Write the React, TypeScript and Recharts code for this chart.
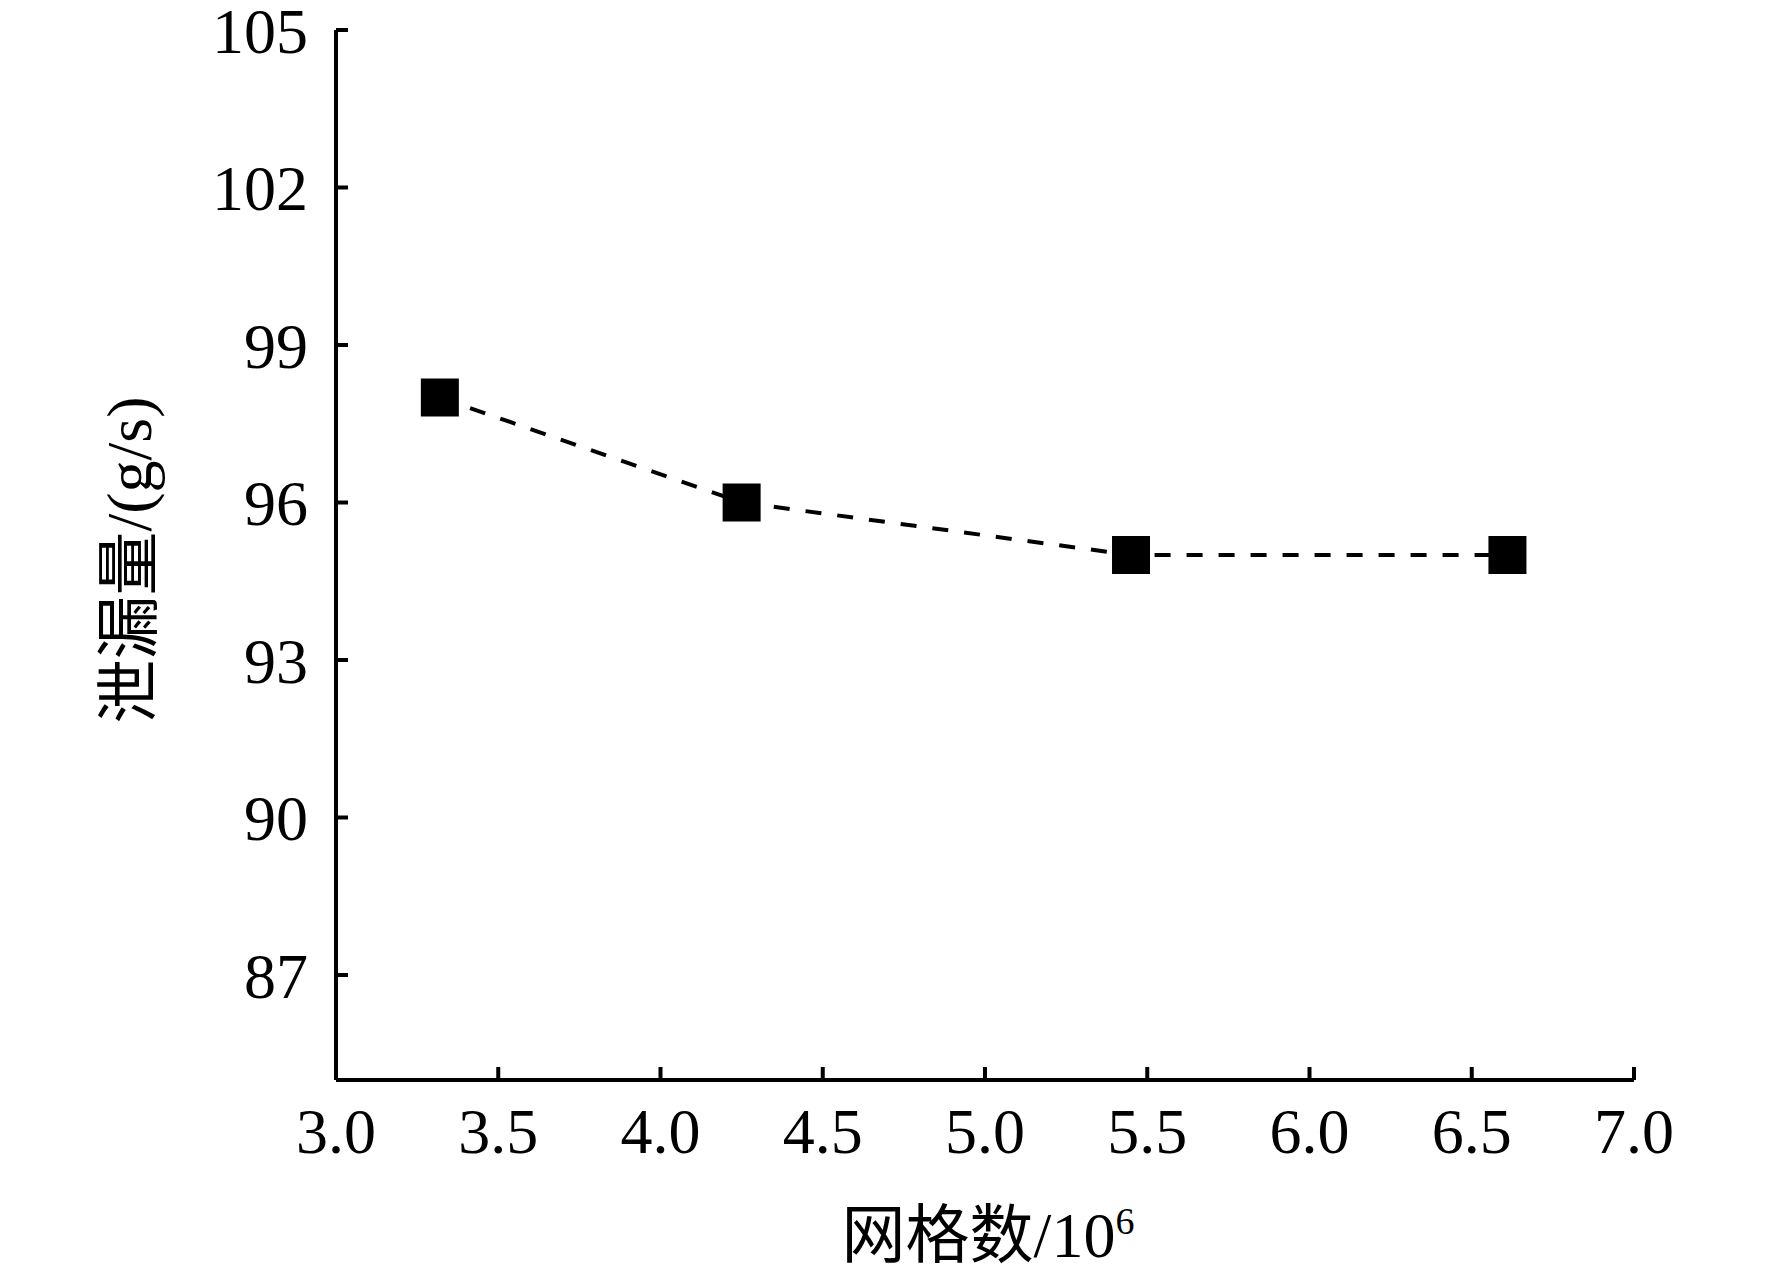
import React from 'react';
import { LineChart, Line, XAxis, YAxis, Label } from 'recharts';

const meshCounts = [3.32, 4.25, 5.45, 6.61];
const leakage = [98, 96, 95, 95];
const xTicks = [3.0, 3.5, 4.0, 4.5, 5.0, 5.5, 6.0, 6.5, 7.0];
const yTicks = [87, 90, 93, 96, 99, 102, 105];
const yLabelText = '泄漏量/(g/s)';
const xLabelMain = '网格数/10';
const xLabelSup = '6';

const data = meshCounts.map((x, i) => ({ x, y: leakage[i] }));

const FONT = "'Liberation Serif', 'Times New Roman', 'Noto Sans CJK SC', serif";

const SquareDot = (props: any) => {
  const { cx, cy, index } = props;
  const s = 38;
  return <rect key={`sq-${index}`} x={cx - s / 2} y={cy - s / 2} width={s} height={s} fill="#000" />;
};

const YLabel = (props: any) => {
  const vb = props.viewBox || { x: 0, y: 0, width: 0, height: 0 };
  const cx = vb.x + 121;
  const cy = vb.y + vb.height / 2 + 5;
  return (
    <text
      x={cx}
      y={cy}
      transform={`rotate(-90, ${cx}, ${cy})`}
      textAnchor="middle"
      dominantBaseline="central"
      fontSize={64}
      fontFamily={FONT}
      fill="#000"
    >
      {yLabelText}
    </text>
  );
};

const XLabel = (props: any) => {
  const vb = props.viewBox || { x: 0, y: 0, width: 0, height: 0 };
  const cx = vb.x + vb.width / 2 + 3;
  const baseline = vb.y + 177;
  return (
    <text x={cx} y={baseline} textAnchor="middle" fontSize={64} fontFamily={FONT} fill="#000">
      <tspan>{xLabelMain}</tspan>
      <tspan dy={-23} fontSize={38}>{xLabelSup}</tspan>
    </text>
  );
};

export default function App() {
  return (
    <div style={{ width: 1764, height: 1270, background: '#fff' }}>
      <LineChart
        width={1764}
        height={1270}
        data={data}
        margin={{ top: 22, right: 138, bottom: 0, left: 0 }}
      >
        <XAxis
          type="number"
          dataKey="x"
          domain={[3, 7]}
          ticks={xTicks}
          interval={0}
          allowDataOverflow
          height={198}
          tickSize={-13}
          tickMargin={41}
          tickFormatter={(v: number) => v.toFixed(1)}
          axisLine={{ stroke: '#000', strokeWidth: 4 }}
          tickLine={{ stroke: '#000', strokeWidth: 4 }}
          tick={{ fontSize: 64, fill: '#000', fontFamily: FONT }}
        >
          <Label content={<XLabel />} />
        </XAxis>
        <YAxis
          type="number"
          dataKey="y"
          domain={[85, 105]}
          ticks={yTicks}
          interval={0}
          allowDataOverflow
          width={328}
          tickSize={-12}
          tickMargin={40}
          axisLine={{ stroke: '#000', strokeWidth: 4 }}
          tickLine={{ stroke: '#000', strokeWidth: 4 }}
          tick={{ fontSize: 64, fill: '#000', fontFamily: FONT }}
        >
          <Label content={<YLabel />} />
        </YAxis>
        <Line
          type="linear"
          dataKey="y"
          stroke="#000"
          strokeWidth={4}
          strokeDasharray="16 16"
          dot={SquareDot}
          activeDot={false}
          isAnimationActive={false}
        />
      </LineChart>
    </div>
  );
}
